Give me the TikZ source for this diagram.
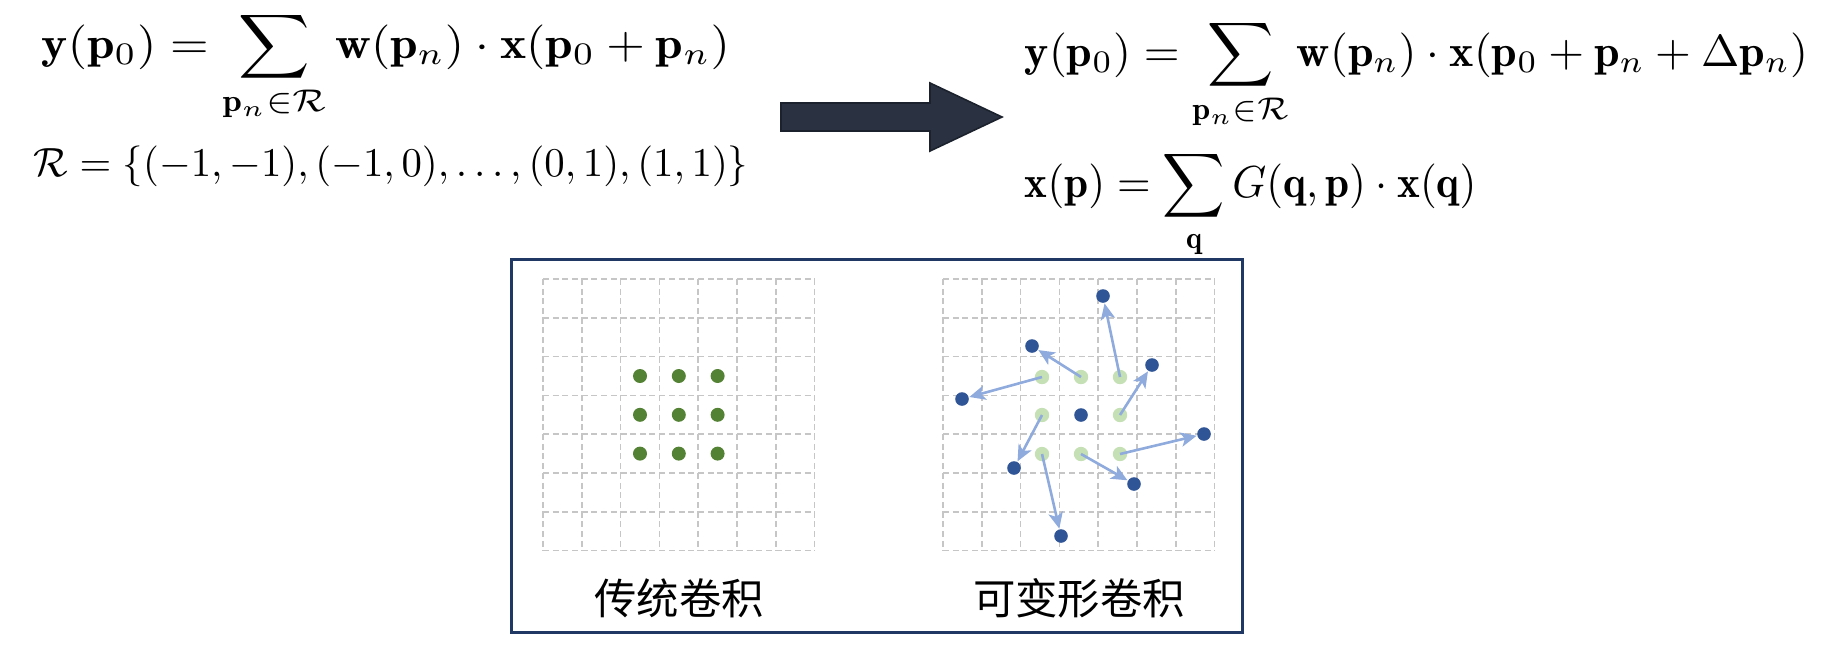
\documentclass[tikz,border=0pt]{standalone}
\usepackage{amsmath,amssymb}
\usepackage{fontspec}
\newfontfamily\cjk{Noto Sans CJK SC}
\usetikzlibrary{arrows.meta}
\definecolor{navy}{HTML}{203864}
\definecolor{dkgreen}{HTML}{548235}
\definecolor{ltgreen}{HTML}{C5E0B4}
\definecolor{dkblue}{HTML}{2F5597}
\definecolor{arrowblue}{HTML}{8FAADC}
\definecolor{gridgray}{HTML}{C6C6C6}
\definecolor{bigarrow}{HTML}{2A3140}
\definecolor{bigarrowline}{HTML}{1C222D}
\tikzset{
  eq/.style={inner sep=0pt, anchor=base west},
  cjklabel/.style={inner sep=0pt, font=\cjk\fontsize{10.6}{12}\selectfont},
  gridline/.style={draw=gridgray, line width=0.4pt, dash pattern=on 1.5pt off 0.9pt},
  gdot/.style={circle, fill=dkgreen, minimum size=3.5pt, inner sep=0pt},
  lgdot/.style={circle, fill=ltgreen, minimum size=3.6pt, inner sep=0pt},
  bdot/.style={circle, fill=dkblue, minimum size=3.4pt, inner sep=0pt},
  offarrow/.style={draw=arrowblue, line width=0.65pt, -{Stealth[length=4pt,width=3.6pt,inset=1pt]}},
  boxframe/.style={draw=navy, line width=0.75pt}
}
\begin{document}
\begin{tikzpicture}[x=0.25pt,y=-0.25pt]
\useasboundingbox (0,0) rectangle (1839,645);
% formulas
\node[eq] (f1) at (41,58) {\scalebox{1.24}[1.12]{$\displaystyle \mathbf{y}(\mathbf{p}_0) = \sum_{\mathbf{p}_n \in \mathcal{R}} \mathbf{w}(\mathbf{p}_n) \cdot \mathbf{x}(\mathbf{p}_0 + \mathbf{p}_n)$}};
\node[eq] (r1) at (33,176) {\scalebox{1.02}{$\mathcal{R} = \{(-1,-1),(-1,0),\ldots,(0,1),(1,1)\}$}};
\node[eq] (f2) at (1024,66) {\scalebox{1.15}[1.12]{$\displaystyle \mathbf{y}(\mathbf{p}_0) = \sum_{\mathbf{p}_n \in \mathcal{R}} \mathbf{w}(\mathbf{p}_n) \cdot \mathbf{x}(\mathbf{p}_0 + \mathbf{p}_n + \Delta\mathbf{p}_n)$}};
\node[eq] (f3) at (1024,197) {\scalebox{1.08}[1.12]{$\displaystyle \mathbf{x}(\mathbf{p}) = \sum_{\mathbf{q}} G(\mathbf{q},\mathbf{p}) \cdot \mathbf{x}(\mathbf{q})$}};
% big arrow
\fill[bigarrow, draw=bigarrowline, line width=0.4pt]
  (781,103) -- (930,103) -- (930,83) -- (1002,117) -- (930,151) -- (930,131) -- (781,131) -- cycle;
% frame
\draw[boxframe] (511,259) rectangle (1242,632);
% grids (each cell edge drawn once, dashes starting at the corners)
\foreach \ox in {543,943} {
  \foreach \i in {0,...,6} {
    \foreach \j in {0,...,7} {
      \draw[gridline] ({\ox+38.8*\i},{279+38.8*\j}) -- ++(38.8,0);
      \draw[gridline] ({\ox+38.8*\j},{279+38.8*\i}) -- ++(0,38.8);
    }
  }
}
% regular convolution samples
\foreach \c [count=\ci] in {640,678.8,717.6} {
  \foreach \r [count=\ri] in {376,414.8,453.6} {
    \node[gdot] (l\ci\ri) at (\c,\r) {};
  }
}
% deformable convolution: original positions
\node[lgdot] (s1) at (1042,377) {};
\node[lgdot] (s2) at (1081,377) {};
\node[lgdot] (s3) at (1120,377) {};
\node[lgdot] (s4) at (1042,415) {};
\node[lgdot] (s6) at (1120,415) {};
\node[lgdot] (s7) at (1042,454) {};
\node[lgdot] (s8) at (1081,454) {};
\node[lgdot] (s9) at (1120,454) {};
% offset positions
\node[bdot] (c0) at (1081,415) {};
\node[bdot] (t1) at (962,399) {};
\node[bdot] (t2) at (1032,346) {};
\node[bdot] (t3) at (1103,296) {};
\node[bdot] (t4) at (1014,468) {};
\node[bdot] (t6) at (1152,365) {};
\node[bdot] (t7) at (1061,536) {};
\node[bdot] (t8) at (1134,484) {};
\node[bdot] (t9) at (1204,434) {};
\foreach \k in {1,2,3,4,6,7,8,9} {
  \draw[offarrow] (s\k.center) -- (t\k);
}
% labels
\node[cjklabel] (lab1) at (679,598) {传统卷积};
\node[cjklabel] (lab2) at (1079,598) {可变形卷积};
\end{tikzpicture}
\end{document}
